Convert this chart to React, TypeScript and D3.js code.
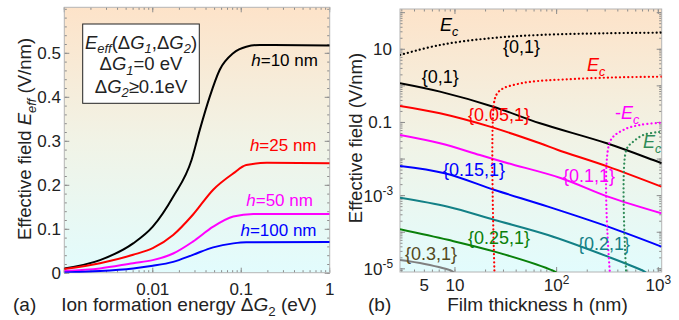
import { useEffect, useRef } from 'react';
import * as d3 from 'd3';

// ---- panel (a): E_eff vs ion formation energy dG2, one curve per film thickness
const curveH10 = [[0.001, 0.011], [0.00253, 0.03], [0.006, 0.068], [0.01, 0.106], [0.017, 0.174], [0.0275, 0.258], [0.034, 0.326], [0.044, 0.401], [0.057, 0.462], [0.081, 0.5], [0.114, 0.515], [0.162, 0.519], [1, 0.518]];
const curveH25 = [[0.001, 0.0098], [0.00253, 0.023], [0.006, 0.042], [0.01, 0.057], [0.017, 0.087], [0.0284, 0.133], [0.0482, 0.19], [0.0813, 0.227], [0.114, 0.246], [0.194, 0.251], [1, 0.25]];
const curveH50 = [[0.001, 0.005], [0.00253, 0.011], [0.006, 0.023], [0.01, 0.03], [0.017, 0.045], [0.0284, 0.072], [0.0482, 0.106], [0.0813, 0.129], [0.137, 0.135], [1, 0.135]];
const curveH100 = [[0.001, 0.002], [0.00253, 0.005], [0.006, 0.011], [0.01, 0.017], [0.017, 0.026], [0.0284, 0.042], [0.0482, 0.059], [0.0813, 0.068], [0.114, 0.0705], [1, 0.071]];
const leftSeries = [
  { name: '10', color: '#000000', data: curveH10, label: [0.736, 0.471] },
  { name: '25', color: '#ff0000', data: curveH25, label: [0.71, 0.278] },
  { name: '50', color: '#ff00ff', data: curveH50, label: [0.646, 0.153] },
  { name: '100', color: '#0000ff', data: curveH100, label: [0.71, 0.0848] },
];
const leftYTicks = [0, 0.1, 0.2, 0.3, 0.4, 0.5];
const leftXTicks = [0.01, 0.1, 1];
const leftXLabels = ['0.01', '0.1', '1'];

// ---- panel (b): effective field vs film thickness h, {dG1,dG2}
const fieldA = [[2.88, 1.18], [7.12, 0.695], [23.8, 0.27], [68.6, 0.095], [311, 0.027], [893, 0.0094], [1080, 0.0077]];
const fieldB = [[2.88, 0.282], [7.12, 0.178], [22.1, 0.0768], [68.6, 0.027], [103, 0.0177], [320, 0.0062], [1071, 0.00176]];
const fieldC = [[2.88, 0.0455], [7.12, 0.027], [17.6, 0.0129], [33.2, 0.0077], [111, 0.003], [320, 0.00094], [1071, 0.00033]];
const fieldD = [[2.88, 0.00648], [7.93, 0.0041], [24.6, 0.00143], [82.2, 0.0005], [320, 0.000142], [1071, 0.0000405]];
const fieldE = [[2.88, 0.00088], [8.53, 0.0005], [24.6, 0.000217], [82.2, 0.000084], [320, 0.0000215], [707, 0.0000089], [760, 0.0000078]];
const fieldF = [[2.88, 0.000121], [8.53, 0.000062], [24.6, 0.0000295], [92.1, 0.0000089], [100, 0.0000078]];
const fieldG = [[2.88, 0.0000175], [5.04, 0.0000136], [9.2, 0.0000089], [9.8, 0.0000078]];
const ecBlack = [[2.88, 6.99], [7.12, 13.1], [22.1, 20], [68.6, 24.6], [311, 27.4], [1080, 28.4]];
const ecRed = [[24.5, 0.000007], [24.5, 0.41], [27, 0.7], [31, 0.9], [40, 1.1], [56, 1.3], [120, 1.5], [370, 1.7], [1080, 1.78]];
const ecMagenta = [[335, 0.000007], [335, 0.0299], [453, 0.0624], [661, 0.0855], [1080, 0.0988]];
const ecGreen = [[484, 0.000007], [484, 0.0177], [567, 0.0299], [713, 0.0455], [964, 0.054], [1080, 0.055]];
const rightSeries = [
  { color: '#000000', data: fieldA, dotted: false },
  { color: '#ff0000', data: fieldB, dotted: false },
  { color: '#ff00ff', data: fieldC, dotted: false },
  { color: '#0000ff', data: fieldD, dotted: false },
  { color: '#138086', data: fieldE, dotted: false },
  { color: '#0a800a', data: fieldF, dotted: false },
  { color: '#808080', data: fieldG, dotted: false },
  { color: '#000000', data: ecBlack, dotted: true },
  { color: '#ff0000', data: ecRed, dotted: true },
  { color: '#ff00ff', data: ecMagenta, dotted: true },
  { color: '#2e8b57', data: ecGreen, dotted: true },
];
const rightLabels = [
  { parts: [{ t: 'E', i: true }, { t: 'c', i: true, sub: true }], color: '#000000', at: [7.12, 31.6] },
  { parts: [{ t: '{0,1}' }], color: '#000000', at: [29.7, 7.93] },
  { parts: [{ t: 'E', i: true }, { t: 'c', i: true, sub: true }], color: '#ff0000', at: [199, 2.55] },
  { parts: [{ t: '{0,1}' }], color: '#000000', at: [4.7, 1.2] },
  { parts: [{ t: '{0.05,1}' }], color: '#ff0000', at: [13.4, 0.11] },
  { parts: [{ t: '-' }, { t: 'E', i: true }, { t: 'c', i: true, sub: true }], color: '#ff00ff', at: [375, 0.125] },
  { parts: [{ t: 'E', i: true }, { t: 'c', i: true, sub: true }], color: '#2e8b57', at: [708, 0.0201] },
  { parts: [{ t: '{0.15,1}' }], color: '#0000ff', at: [7.62, 0.00345] },
  { parts: [{ t: '{0.1,1}' }], color: '#ff00ff', at: [115.5, 0.00237] },
  { parts: [{ t: '{0.25,1}' }], color: '#0a800a', at: [13.4, 0.000048] },
  { parts: [{ t: '{0.2,1}' }], color: '#138086', at: [162, 0.000033] },
  { parts: [{ t: '{0.3,1}' }], color: '#554a1e', at: [3.22, 0.0000175] },
];
const rightXTicks = [5, 10, 100, 1000];
const rightXLabels = [{ b: '5', e: '' }, { b: '10', e: '' }, { b: '10', e: '2' }, { b: '10', e: '3' }];
const rightYTicks = [10, 0.1, 0.001, 0.00001];
const rightYLabels = [{ b: '10', e: '' }, { b: '0.1', e: '' }, { b: '10', e: '-3' }, { b: '10', e: '-5' }];

type Part = { t: string; i?: boolean; sub?: boolean; sup?: boolean };

function rich(g: any, x: number, y: number, parts: Part[], size: number, color: string, anchor = 'start') {
  const text = g.append('text')
    .attr('x', x).attr('y', y)
    .attr('font-size', size)
    .attr('fill', color)
    .attr('text-anchor', anchor);
  let shift = 0;
  parts.forEach(p => {
    const target = p.sub ? size * 0.26 : p.sup ? -size * 0.42 : 0;
    text.append('tspan')
      .attr('dy', target - shift)
      .attr('font-size', p.sub || p.sup ? size * 0.7 : size)
      .attr('font-style', p.i ? 'italic' : 'normal')
      .text(p.t);
    shift = target;
  });
  return text;
}

function logMinor(lo: number, hi: number) {
  const out: number[] = [];
  for (let e = Math.floor(Math.log10(lo)); e <= Math.ceil(Math.log10(hi)); e++) {
    for (let k = 1; k < 10; k++) {
      const v = k * Math.pow(10, e);
      if (v >= lo && v <= hi) out.push(v);
    }
  }
  return out;
}

export default function App() {
  const ref = useRef<SVGSVGElement>(null);

  useEffect(() => {
    const svg = d3.select(ref.current);
    svg.selectAll('*').remove();
    const tickColor = '#8c8c8c';

    const defs = svg.append('defs');
    const grad = defs.append('linearGradient').attr('id', 'bg').attr('x1', 0).attr('y1', 0).attr('x2', 0).attr('y2', 1);
    grad.append('stop').attr('offset', '0%').attr('stop-color', '#fde3c9');
    grad.append('stop').attr('offset', '50%').attr('stop-color', '#f1f3e6');
    grad.append('stop').attr('offset', '100%').attr('stop-color', '#e2fcfd');

    const frame = (g: any, x0: number, x1: number, y0: number, y1: number, id: string) => {
      g.append('rect').attr('x', x0).attr('y', y0).attr('width', x1 - x0).attr('height', y1 - y0)
        .attr('fill', 'url(#bg)');
      defs.append('clipPath').attr('id', id).append('rect')
        .attr('x', x0).attr('y', y0).attr('width', x1 - x0).attr('height', y1 - y0);
    };
    const border = (g: any, x0: number, x1: number, y0: number, y1: number) => {
      g.append('rect').attr('x', x0).attr('y', y0).attr('width', x1 - x0).attr('height', y1 - y0)
        .attr('fill', 'none').attr('stroke', '#b4b4b4').attr('stroke-width', 1);
    };
    const xTickMarks = (g: any, vals: number[], sc: any, y0: number, y1: number, len: number) => {
      vals.forEach(v => {
        const px = sc(v);
        g.append('line').attr('x1', px).attr('x2', px).attr('y1', y1).attr('y2', y1 - len).attr('stroke', tickColor);
        g.append('line').attr('x1', px).attr('x2', px).attr('y1', y0).attr('y2', y0 + len).attr('stroke', tickColor);
      });
    };
    const yTickMarks = (g: any, vals: number[], sc: any, x0: number, x1: number, len: number) => {
      vals.forEach(v => {
        const py = sc(v);
        g.append('line').attr('x1', x0).attr('x2', x0 + len).attr('y1', py).attr('y2', py).attr('stroke', tickColor);
        g.append('line').attr('x1', x1).attr('x2', x1 - len).attr('y1', py).attr('y2', py).attr('stroke', tickColor);
      });
    };

    // ---------- panel (a)
    const a = svg.append('g');
    const ax0 = 64.3, ax1 = 329.7, ay0 = 7.3, ay1 = 272.7;
    const xa = d3.scaleLog().domain([0.001, 1]).range([ax0, ax1]);
    const ya = d3.scaleLinear().domain([0, 0.605]).range([273.3, 7.1]);
    frame(a, ax0, ax1, ay0, ay1, 'clipA');
    xTickMarks(a, logMinor(0.001, 1), xa, ay0, ay1, 2.5);
    xTickMarks(a, [0.001, 0.01, 0.1, 1], xa, ay0, ay1, 5);
    yTickMarks(a, d3.range(0, 0.61, 0.02), ya, ax0, ax1, 2.5);
    yTickMarks(a, leftYTicks, ya, ax0, ax1, 5);
    border(a, ax0, ax1, ay0, ay1);

    const lineA = d3.line<number[]>().x(d => xa(d[0])).y(d => ya(d[1])).curve(d3.curveMonotoneX);
    const plotA = a.append('g').attr('clip-path', 'url(#clipA)');
    leftSeries.forEach(s => {
      plotA.append('path').attr('d', lineA(s.data)).attr('fill', 'none')
        .attr('stroke', s.color).attr('stroke-width', 2);
      rich(a, xa(s.label[0]), ya(s.label[1]),
        [{ t: 'h', i: true }, { t: `=${s.name} nm` }], 17, s.color, 'end');
    });

    leftYTicks.forEach(v => {
      a.append('text').attr('x', 61).attr('y', ya(v) + 6).attr('text-anchor', 'end')
        .attr('font-size', 17).attr('fill', '#222').text(v === 0 ? '0' : d3.format('.1f')(v));
    });
    leftXTicks.forEach((v, i) => {
      a.append('text').attr('x', xa(v)).attr('y', 295).attr('text-anchor', 'middle')
        .attr('font-size', 17).attr('fill', '#222').text(leftXLabels[i]);
    });

    // legend box
    a.append('rect').attr('x', 82.7).attr('y', 24).attr('width', 116.6).attr('height', 79.3)
      .attr('fill', '#fff').attr('stroke', '#222').attr('stroke-width', 1);
    rich(a, 141, 48.5, [{ t: 'E', i: true }, { t: 'eff', i: true, sub: true }, { t: '(Δ' }, { t: 'G', i: true }, { t: '1', i: true, sub: true },
      { t: ',Δ' }, { t: 'G', i: true }, { t: '2', i: true, sub: true }, { t: ')' }], 18.5, '#222', 'middle');
    rich(a, 141, 70, [{ t: 'Δ' }, { t: 'G', i: true }, { t: '1', i: true, sub: true }, { t: '=0 eV' }], 18.5, '#222', 'middle');
    rich(a, 141, 92.5, [{ t: 'Δ' }, { t: 'G', i: true }, { t: '2', i: true, sub: true }, { t: '≥0.1eV' }], 18.5, '#222', 'middle');

    const ylabA = a.append('g').attr('transform', 'translate(31,139) rotate(-90)');
    rich(ylabA, 0, 0, [{ t: 'Effective field ' }, { t: 'E', i: true }, { t: 'eff', i: true, sub: true }, { t: ' (V/nm)' }], 18.5, '#222', 'middle');
    rich(a, 189, 311, [{ t: 'Ion formation energy Δ' }, { t: 'G', i: true }, { t: '2', sub: true }, { t: ' (eV)' }], 19, '#222', 'middle');
    a.append('text').attr('x', 13).attr('y', 311).attr('font-size', 19).attr('fill', '#222').text('(a)');

    // ---------- panel (b)
    const b = svg.append('g');
    const bx0 = 400, bx1 = 661.7, by0 = 9, by1 = 272;
    const xb = d3.scaleLog().domain([2.88, 1080]).range([bx0, bx1]);
    const yb = d3.scaleLog().domain([8.2e-6, 126]).range([by1, by0]);
    frame(b, bx0, bx1, by0, by1, 'clipB');
    xTickMarks(b, logMinor(2.88, 1080), xb, by0, by1, 2.5);
    xTickMarks(b, [10, 100, 1000], xb, by0, by1, 5);
    yTickMarks(b, logMinor(8.2e-6, 126), yb, bx0, bx1, 2.5);
    yTickMarks(b, [1e-5, 1e-4, 1e-3, 1e-2, 0.1, 1, 10, 100], yb, bx0, bx1, 5);
    border(b, bx0, bx1, by0, by1);

    const lineB = d3.line<number[]>().x(d => xb(d[0])).y(d => yb(d[1])).curve(d3.curveCatmullRom.alpha(0.5));
    const plotB = b.append('g').attr('clip-path', 'url(#clipB)');
    rightSeries.forEach(s => {
      const p = plotB.append('path').attr('d', lineB(s.data)).attr('fill', 'none')
        .attr('stroke', s.color).attr('stroke-width', 2);
      if (s.dotted) p.attr('stroke-dasharray', '0.1,4').attr('stroke-linecap', 'round').attr('stroke-width', 2.2);
    });
    rightLabels.forEach(l => {
      rich(plotB, xb(l.at[0]), yb(l.at[1]), l.parts, 18, l.color, 'start');
    });

    rightYTicks.forEach((v, i) => {
      const lab = rightYLabels[i];
      rich(b, lab.e ? 393 : 392, yb(v) + 6, [{ t: lab.b }, ...(lab.e ? [{ t: lab.e, sup: true }] : [])], 17, '#222', 'end');
    });
    rightXTicks.forEach((v, i) => {
      const lab = rightXLabels[i];
      rich(b, xb(v), 291, [{ t: lab.b }, ...(lab.e ? [{ t: lab.e, sup: true }] : [])], 17, '#222', 'middle');
    });

    const ylabB = b.append('g').attr('transform', 'translate(362,138) rotate(-90)');
    ylabB.append('text').attr('text-anchor', 'middle').attr('font-size', 18.5).attr('fill', '#222').text('Effective field (V/nm)');
    b.append('text').attr('x', 537.5).attr('y', 311).attr('text-anchor', 'middle')
      .attr('font-size', 19).attr('fill', '#222').text('Film thickness h (nm)');
    b.append('text').attr('x', 368).attr('y', 311).attr('font-size', 19).attr('fill', '#222').text('(b)');
  }, []);

  return (
    <div style={{ position: 'absolute', left: 0, top: 0 }}>
      <svg ref={ref} width={679} height={320} style={{ display: 'block', fontFamily: '"Liberation Sans", Arial, sans-serif', background: '#fff' }} />
    </div>
  );
}
